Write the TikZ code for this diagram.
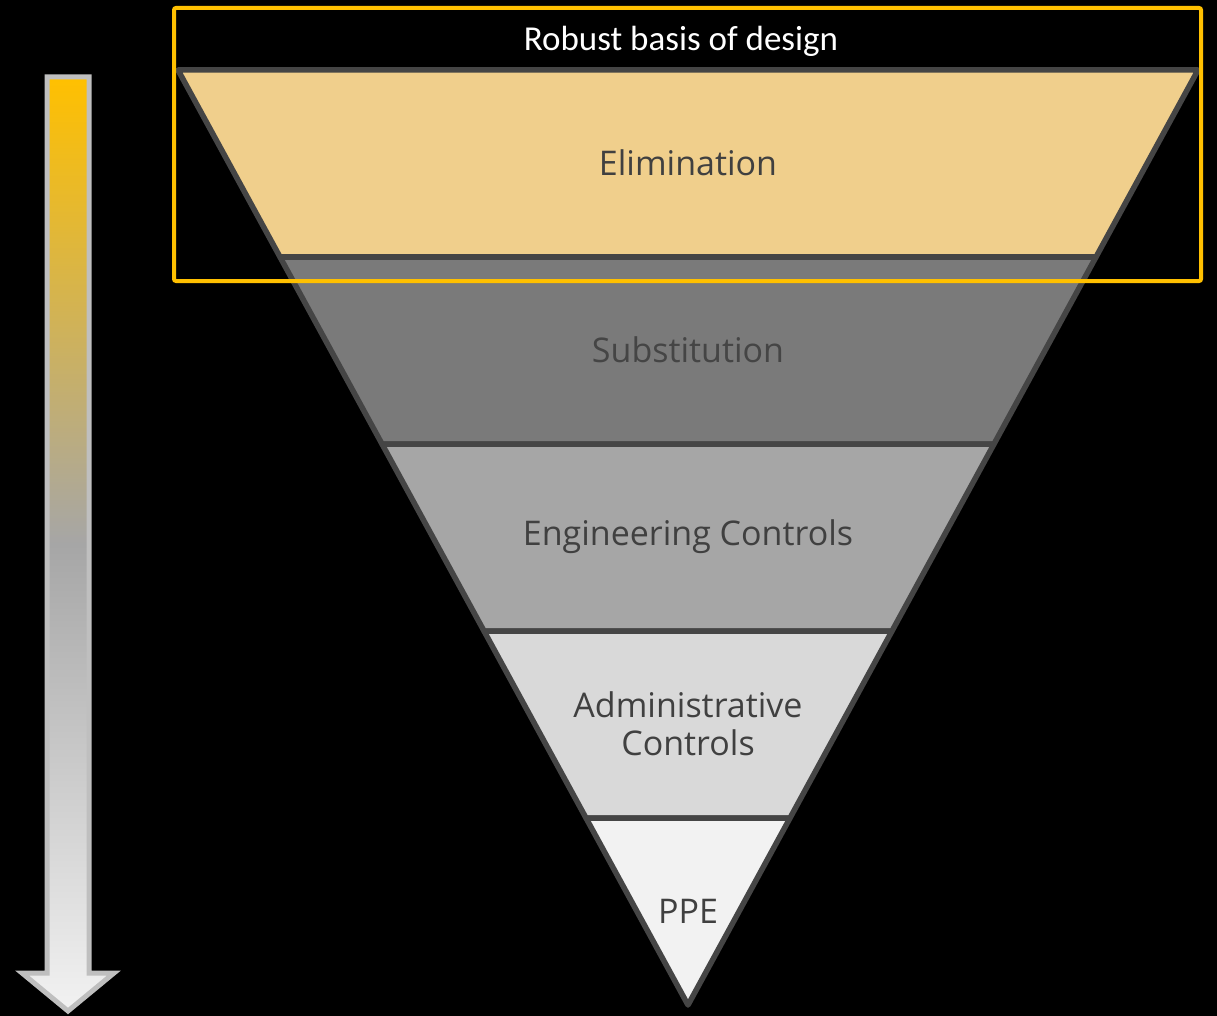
\documentclass[tikz,border=0pt]{standalone}
\usepackage{fontspec}
\setmainfont{Open Sans}
\newfontfamily\titlefont{Carlito}
\definecolor{elimfill}{HTML}{F0CF8C}
\definecolor{subsfill}{HTML}{7A7A7A}
\definecolor{engfill}{HTML}{A6A6A6}
\definecolor{adminfill}{HTML}{D9D9D9}
\definecolor{ppefill}{HTML}{F2F2F2}
\definecolor{bandline}{HTML}{454545}
\definecolor{labeltext}{HTML}{404040}
\definecolor{basisgold}{HTML}{FFC000}
\definecolor{arrowedge}{HTML}{BFBFBF}
\tikzset{
		band/.style={draw=bandline, line width=5.5pt, line join=round},
		bandlabel/.style={text=labeltext, font=\fontsize{34}{38}\selectfont, align=center}
	}

\begin{document}
\begin{tikzpicture}[x=1pt, y=-1pt]
          \fill[black] (0,0) rectangle (1217,1016);
          \useasboundingbox (0,0) rectangle (1217,1016);

          % funnel corners
          \coordinate (L0) at (178,70);  \coordinate (R0) at (1198,70);
          \coordinate (L1) at (280,257); \coordinate (R1) at (1096,257);
          \coordinate (L2) at (382,444); \coordinate (R2) at (994,444);
          \coordinate (L3) at (484,631); \coordinate (R3) at (892,631);
          \coordinate (L4) at (586,818); \coordinate (R4) at (790,818);
          \coordinate (T) at (688,1005);

          \filldraw[band, fill=elimfill] (L0) -- (R0) -- (R1) -- (L1) -- cycle;
          \filldraw[band, fill=subsfill] (L1) -- (R1) -- (R2) -- (L2) -- cycle;
          \filldraw[band, fill=engfill] (L2) -- (R2) -- (R3) -- (L3) -- cycle;
          \filldraw[band, fill=adminfill] (L3) -- (R3) -- (R4) -- (L4) -- cycle;
          \filldraw[band, fill=ppefill] (L4) -- (R4) -- (T) -- cycle;

          \node[bandlabel] (elim) at (688,163) {Elimination};
          \node[bandlabel, text=bandline] (subs) at (688,350) {Substitution};
          \node[bandlabel] (eng) at (688,537) {Engineering Controls};
          \node[bandlabel] (admin) at (688,724) {Administrative\\Controls};
          \node[bandlabel] (ppe) at (688,911) {PPE};

          % frame round the top band
          \draw[basisgold, line width=4pt, rounded corners=2pt] (174,8) rectangle (1201,281);
          \node[text=white, font=\titlefont\fontsize{35}{40}\selectfont] (basis) at (681,41) {Robust basis of design};

          % arrow on the left
          \draw[arrowedge, line width=5pt, top color=basisgold, bottom color=ppefill,
            middle color=engfill]
            (47,77) -- (89,77) -- (89,973) -- (114,973) -- (68,1011) -- (22,973)
            -- (47,973) -- cycle;

          \end{tikzpicture}
\end{document}
